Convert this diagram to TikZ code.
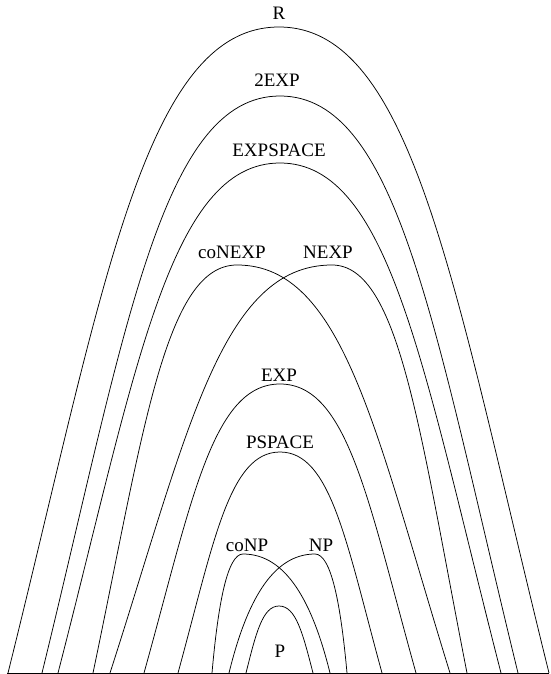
\documentclass[tikz,border=0pt]{standalone}
\usepackage{fontspec}
\setmainfont{Liberation Serif}

% One complexity class: an arch standing on the base line.
% #1 left foot x, #2 apex x, #3 apex y, #4 right foot x, #5 leg slant factor
\newcommand\classarch[5]{%
  \draw (#1,673)
    .. controls ({#1+#5*(#2-#1)},{673-0.59*(673-#3)}) and ({#2-0.5*(#2-#1)},#3) .. (#2,#3)
    .. controls ({#2+0.5*(#4-#2)},#3) and ({#4-#5*(#4-#2)},{673-0.59*(673-#3)}) .. (#4,673);}

\begin{document}
\begin{tikzpicture}[x=1pt,y=-1pt,line width=0.75pt,
  lbl/.style={anchor=base,inner sep=0pt,font=\fontsize{19}{19}\selectfont}]
\useasboundingbox (0,0) rectangle (550,674);

% base line
\coordinate (baseL) at (7,673);
\coordinate (baseR) at (549,673);
\draw (baseL) -- (baseR);

% arches, outermost first
\classarch{8}{279}{27}{549}{0.35}
\classarch{42}{280}{96}{518}{0.35}
\classarch{58}{280}{163}{501}{0.35}
\classarch{93}{237}{265}{450}{0.35}
\classarch{110}{332}{265}{467}{0.35}
\classarch{144}{280}{384}{416}{0.35}
\classarch{178}{280}{452}{382}{0.35}
\classarch{212}{243}{554}{330}{0.2}
\classarch{229}{315}{554}{347}{0.2}
\classarch{246}{279}{606}{313}{0.3}

% class names
\node[lbl] (r)      at (279,20)  {R};
\node[lbl] (exp2)   at (277,87)  {2EXP};
\node[lbl] (expsp)  at (279,156) {EXPSPACE};
\node[lbl] (conexp) at (232,258) {coNEXP};
\node[lbl] (nexp)   at (328,258) {NEXP};
\node[lbl] (exp)    at (279,381) {EXP};
\node[lbl] (psp)    at (280,448) {PSPACE};
\node[lbl] (conp)   at (247,551) {coNP};
\node[lbl] (np)     at (321,551) {NP};
\node[lbl] (p)      at (280,657) {P};
\end{tikzpicture}
\end{document}
